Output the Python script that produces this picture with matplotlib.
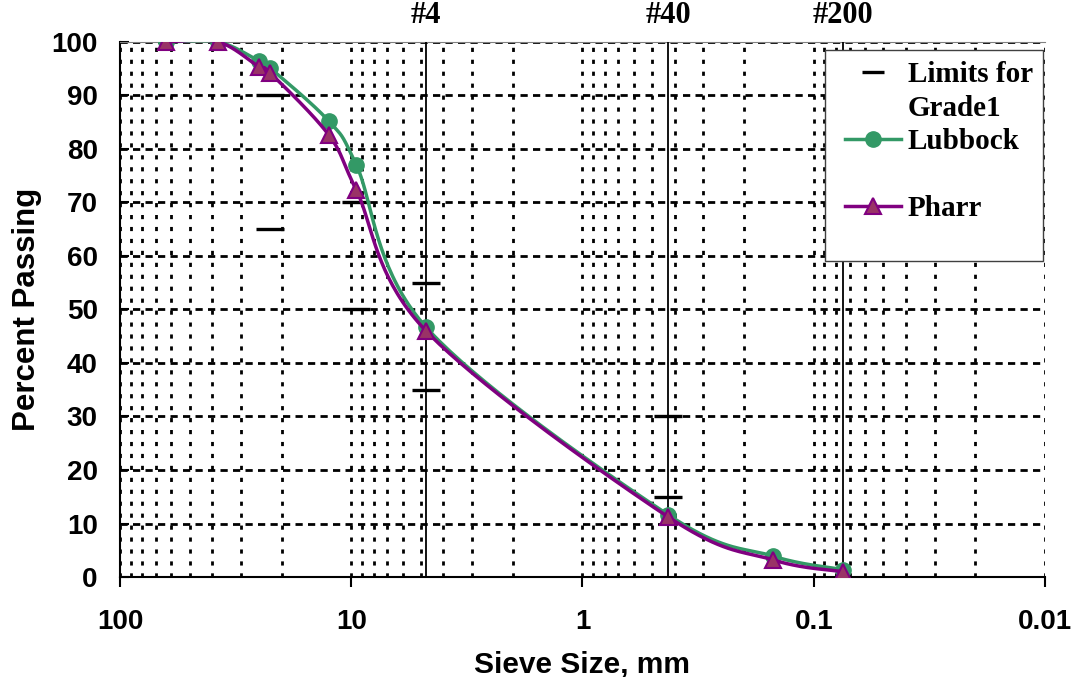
import numpy as np
import matplotlib
matplotlib.use("Agg")
import matplotlib.pyplot as plt
from matplotlib.lines import Line2D
from matplotlib.patches import Rectangle

# sieve sizes (mm) and percent passing
sizes = [63, 37.5, 25, 22.4, 12.5, 9.5, 4.75, 0.425, 0.15, 0.075]
lubbock = [100, 100, 96.4, 95.1, 85.2, 77.0, 46.7, 11.6, 3.9, 1.4]
pharr = [100, 100, 95.3, 94.2, 82.6, 72.3, 46.0, 11.2, 3.2, 1.0]

# Grade 1 spec limits (upper and lower at each controlled sieve)
limit_sizes = [22.4, 22.4, 9.5, 9.5, 4.75, 4.75, 0.425, 0.425]
limit_vals = [90, 65, 70, 50, 55, 35, 30, 15]

# reference sieves marked with vertical lines
ref_sizes = [4.75, 0.425, 0.075]
ref_labels = ["#4", "#40", "#200"]

GREEN = "#339966"
PURPLE = "#800080"
PLUM = "#993366"


def smooth(xs, ys, n=40):
    # Excel-style smoothed line: bezier through points in screen-like coords
    u = -np.log10(np.asarray(xs, float)) * 231.0
    v = np.asarray(ys, float) * 5.35
    pts = np.column_stack([u, v])
    m = len(pts)
    t = np.linspace(0, 1, n)[:, None]
    out = []
    for i in range(m - 1):
        p0 = pts[max(i - 1, 0)]
        p1 = pts[i]
        p2 = pts[i + 1]
        p3 = pts[min(i + 2, m - 1)]
        c1 = p1 + (p2 - p0) / 6.0
        c2 = p2 - (p3 - p1) / 6.0
        seg = (1 - t) ** 3 * p1 + 3 * (1 - t) ** 2 * t * c1 + 3 * (1 - t) * t ** 2 * c2 + t ** 3 * p2
        out.append(seg if i == 0 else seg[1:])
    out = np.vstack(out)
    return 10 ** (-out[:, 0] / 231.0), out[:, 1] / 5.35


fig = plt.figure(figsize=(10.79, 6.77), dpi=100)
ax = fig.add_axes([0.1112, 0.1477, 0.8573, 0.7903])

ax.set_xscale("log")
ax.set_xlim(100, 0.01)
ax.set_ylim(0, 100)

# grid
ax.set_yticks(np.arange(0, 101, 10))
ax.grid(axis="y", which="major", color="black", lw=2, ls=(0, (2.6, 1.9)))
ax.grid(axis="x", which="both", color="black", lw=2, ls=(0, (1.5, 2.8)))
ax.set_axisbelow(True)

# limits
ax.plot(limit_sizes, limit_vals, ls="none", marker="_", ms=20, mew=2.4,
        color="black", zorder=3)

# reference sieve lines
for s, lab in zip(ref_sizes, ref_labels):
    ax.axvline(s, color="black", lw=1.3, zorder=3)
    ax.text(s, 1.022, lab, transform=ax.get_xaxis_transform(), ha="center",
            va="bottom", fontsize=22, fontweight="bold", family="Liberation Serif")

# curves
lx, ly = smooth(sizes, lubbock)
ax.plot(lx, ly, color=GREEN, lw=2.5, zorder=4)
ax.plot(sizes, lubbock, ls="none", marker="o", ms=11, mfc=GREEN, mec=GREEN, zorder=5)
px, py = smooth(sizes, pharr)
ax.plot(px, py, color=PURPLE, lw=2.5, zorder=6)
ax.plot(sizes, pharr, ls="none", marker="^", ms=12, mfc=PLUM, mec=PURPLE, mew=1.5, zorder=7)

# axes cosmetics
for side in ["left", "bottom"]:
    ax.spines[side].set_linewidth(1.5)
ax.spines["right"].set_visible(False)
ax.spines["top"].set_color("#808080")
ax.spines["top"].set_linewidth(0.8)

ax.set_xticks([100, 10, 1, 0.1, 0.01])
ax.set_xticklabels(["100", "10", "1", "0.1", "0.01"])
ax.tick_params(axis="x", which="major", direction="out", length=7, width=1.5, pad=16)
ax.tick_params(axis="x", which="minor", length=0)
ax.tick_params(axis="y", direction="in", length=6.5, width=1.5, pad=16)
for lab in ax.get_xticklabels() + ax.get_yticklabels():
    lab.set_fontsize(20)
    lab.set_fontweight("bold")
    lab.set_family("Liberation Sans")

ax.set_xlabel("Sieve Size, mm", fontsize=21.5, fontweight="bold", family="Liberation Sans", labelpad=11)
ax.set_ylabel("Percent Passing", fontsize=22.5, fontweight="bold", family="Liberation Sans", labelpad=7)

# legend box drawn separately so the entries can sit with Excel-like padding
ax.add_patch(Rectangle((0.762, 0.591), 0.236, 0.394, transform=ax.transAxes,
                       facecolor="white", edgecolor="#404040", lw=1.0, zorder=9))
blank = Line2D([], [], ls="none")
handles = [
    Line2D([], [], ls="none", marker="_", ms=16, mew=2.4, color="black"),
    blank,
    Line2D([], [], color=GREEN, lw=2.5, marker="o", ms=11, mfc=GREEN, mec=GREEN),
    blank,
    Line2D([], [], color=PURPLE, lw=2.5, marker="^", ms=12, mfc=PLUM, mec=PURPLE, mew=1.5),
]
labels = ["Limits for", "Grade1", "Lubbock", " ", "Pharr"]
leg = ax.legend(handles, labels, loc="upper left", bbox_to_anchor=(0.784, 0.964),
                prop={"family": "Liberation Serif", "weight": "bold", "size": 21},
                frameon=False, handlelength=1.9, handletextpad=0.25, labelspacing=0.22,
                borderpad=0, borderaxespad=0)
leg.set_zorder(10)

fig.savefig("out.png", dpi=100)
